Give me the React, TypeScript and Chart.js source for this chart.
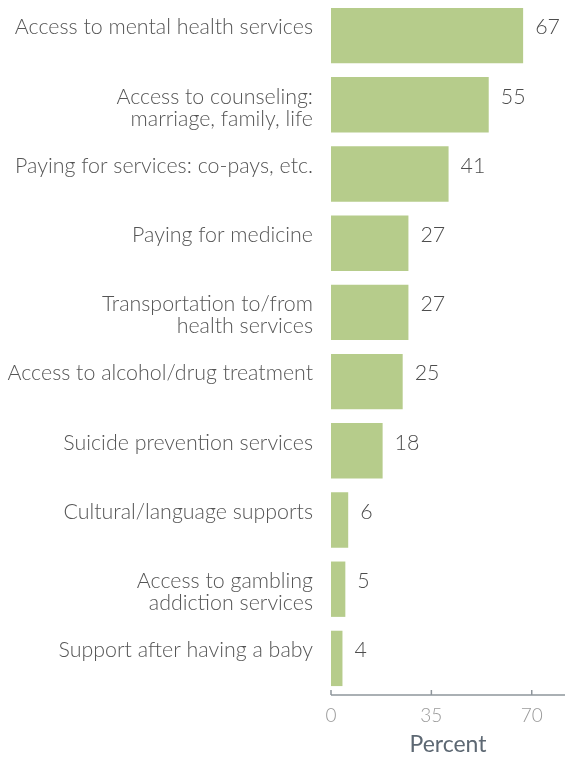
import React, { useEffect, useRef } from "react";
import { Chart, registerables } from "chart.js";

Chart.register(...registerables);

const categories: (string | string[])[] = [
  "Access to mental health services",
  ["Access to counseling:", "marriage, family, life"],
  "Paying for services: co-pays, etc.",
  "Paying for medicine",
  ["Transportation to/from", "health services"],
  "Access to alcohol/drug treatment",
  "Suicide prevention services",
  "Cultural/language supports",
  ["Access to gambling", "addiction services"],
  "Support after having a baby",
];
const values = [67, 55, 41, 27, 27, 25, 18, 6, 5, 4];
const xTickValues = [0, 35, 70];
const xMax = 81.6;
const axisTitle = "Percent";

const FONT = "Lato, 'Open Sans', sans-serif";

export default function App() {
  const ref = useRef<HTMLCanvasElement | null>(null);

  useEffect(() => {
    if (!ref.current) return;

    const valueLabels = {
      id: "valueLabels",
      afterDatasetsDraw(chart: any) {
        const ctx = chart.ctx;
        const meta = chart.getDatasetMeta(0);
        ctx.save();
        ctx.font = `300 21.4px ${FONT}`;
        ctx.fillStyle = "#4d4d4d";
        ctx.textAlign = "left";
        ctx.textBaseline = "middle";
        meta.data.forEach((bar: any, i: number) => {
          ctx.fillText(String(values[i]), bar.x + 12, bar.y - 8);
        });
        ctx.restore();
      },
    };

    const axisLine = {
      id: "axisLine",
      afterDraw(chart: any) {
        const ctx = chart.ctx;
        const xs = chart.scales.x;
        const y = chart.chartArea.bottom + 2;
        ctx.save();
        ctx.strokeStyle = "#8f969c";
        ctx.lineWidth = 1.5;
        ctx.beginPath();
        ctx.moveTo(xs.getPixelForValue(0), y);
        ctx.lineTo(chart.chartArea.right, y);
        xTickValues.forEach((v) => {
          const px = xs.getPixelForValue(v);
          ctx.moveTo(px, y);
          ctx.lineTo(px, y - 5);
        });
        ctx.stroke();
        ctx.restore();
      },
    };

    const chart = new Chart(ref.current, {
      type: "bar",
      data: {
        labels: categories,
        datasets: [
          {
            data: values,
            backgroundColor: "#b6cc8b",
            borderWidth: 0,
            categoryPercentage: 0.8,
            barPercentage: 1,
          },
        ],
      },
      options: {
        indexAxis: "y",
        responsive: false,
        animation: false,
        layout: { padding: { left: 0, right: 12, top: 1, bottom: 0 } },
        plugins: {
          legend: { display: false },
          tooltip: { enabled: false },
        },
        scales: {
          y: {
            grid: { display: false, drawTicks: false },
            border: { display: false },
            ticks: {
              color: "#555555",
              font: { family: FONT, size: 21.4, weight: "300", lineHeight: 1.03 },
              padding: 18,
              autoSkip: false,
              labelOffset: 3,
              callback: function (this: any, _v: any, i: number) {
                const l = categories[i];
                return Array.isArray(l) ? l : [l, ""];
              },
            },
            afterFit: (s: any) => {
              s.width = 331;
              s.paddingTop = 0;
              s.paddingBottom = 0;
            },
          },
          x: {
            min: 0,
            max: xMax,
            afterBuildTicks: (s: any) => {
              s.ticks = xTickValues.map((v) => ({ value: v }));
            },
            grid: { display: false, drawTicks: false },
            border: { display: false },
            ticks: {
              color: "#9a9a9a",
              font: { family: FONT, size: 19, weight: "300" },
              padding: 11,
              maxRotation: 0,
              autoSkip: false,
            },
            title: {
              display: true,
              text: axisTitle,
              color: "#5d6873",
              font: { family: FONT, size: 23 },
              padding: { top: 0, bottom: 1 },
            },
            afterFit: (s: any) => {
              s.height = 66;
              s.paddingLeft = 0;
              s.paddingRight = 0;
            },
          },
        },
      },
      plugins: [valueLabels, axisLine],
    });
    return () => chart.destroy();
  }, []);

  return (
    <div style={{ position: "absolute", left: 0, top: 0, width: 577, height: 759, background: "#fff" }}>
      <canvas ref={ref} width={577} height={759} />
    </div>
  );
}
